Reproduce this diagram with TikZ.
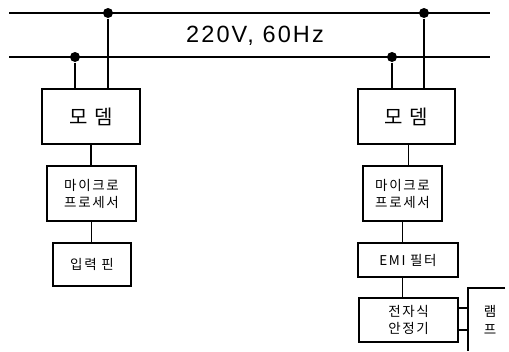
\documentclass[tikz,border=0pt]{standalone}
\usepackage{fontspec}
\setmainfont{Liberation Sans}
\newfontfamily\kr{Noto Sans CJK KR}[LetterSpace=12]
\newfontfamily\krbig{Noto Sans CJK KR}[LetterSpace=10]
\begin{document}
\begin{tikzpicture}[x=1pt,y=-1pt,line width=1.1pt,
  blk/.style={draw,rectangle,inner sep=0pt,align=center,font=\kr\fontsize{13.5}{17}\selectfont},
  bigblk/.style={draw,rectangle,inner sep=0pt,align=center,font=\krbig\fontsize{20}{22}\selectfont},
  dot/.style={circle,fill,inner sep=0pt,minimum size=10pt}]
\useasboundingbox (0,0) rectangle (509,351);
% bus lines
\coordinate (t1) at (9,13);
\coordinate (t2) at (490,13);
\coordinate (b1) at (9,57);
\coordinate (b2) at (490,57);
\draw (t1) -- (t2);
\draw (b1) -- (b2);
\node[font=\fontsize{23.5}{26}\selectfont\addfontfeature{LetterSpace=9}] (v) at (255,36) {220V, 60Hz};
% dots
\node[dot] (dtl) at (108,13) {};
\node[dot] (dbl) at (75,57) {};
\node[dot] (dtr) at (424,13) {};
\node[dot] (dbr) at (392,57) {};
% left column
\node[bigblk,minimum width=98pt,minimum height=55pt] (ml) at (91,116.5) {모 뎀};
\node[blk,minimum width=89pt,minimum height=55pt] (pl) at (91.5,193.5) {마이크로\\프로세서};
\node[blk,minimum width=78pt,minimum height=43pt] (in) at (92,264.5) {입력 핀};
% right column
\node[bigblk,minimum width=97pt,minimum height=55pt] (mr) at (406.5,116.5) {모 뎀};
\node[blk,minimum width=79pt,minimum height=55pt] (pr) at (402.5,193.5) {마이크로\\프로세서};
\node[blk,minimum width=100pt,minimum height=34pt] (emi) at (408,260) {EMI 필터};
\node[blk,minimum width=99pt,minimum height=44pt] (bal) at (408.5,320) {전자식\\안정기};
% lamp
\coordinate (lt) at (468,288);
\coordinate (lb) at (468,351);
\coordinate (lr) at (505,288);
\draw (lr) -- (lt) -- (lb);
\node[font=\kr\fontsize{13.5}{18}\selectfont,align=center] (lamp) at (490,320) {램\\프};
% connectors
\draw (dtl) -- (dtl |- ml.north);
\draw (dbl) -- (dbl |- ml.north);
\draw (dtr) -- (dtr |- mr.north);
\draw (dbr) -- (dbr |- mr.north);
\draw (ml.south) -- (pl.north -| ml.south);
\draw (pl.south) -- (in.north -| pl.south);
\draw ([xshift=2pt]mr.south) -- ([xshift=2pt]mr.south |- pr.north);
\draw (pr.south) -- (emi.north -| pr.south);
\draw (emi.south -| pr.south) -- (bal.north -| pr.south);
\draw ([yshift=-10pt]bal.east) -- ([yshift=-10pt]bal.east -| lt);
\draw ([yshift=12pt]bal.east) -- ([yshift=12pt]bal.east -| lt);
\end{tikzpicture}
\end{document}
